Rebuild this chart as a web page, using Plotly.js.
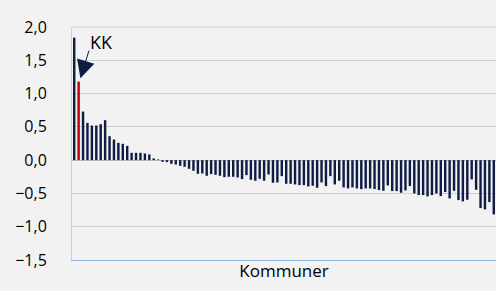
<!DOCTYPE html>
<html>
<head>
<meta charset="utf-8">
<script src="https://cdn.plot.ly/plotly-3.0.1.min.js"></script>
<style>html,body{margin:0;padding:0;background:#f2f2f2;}#chart{width:496px;height:291px;}</style>
</head>
<body>
<div id="chart"></div>
<script>
const categories = ["K01","KK","K03","K04","K05","K06","K07","K08","K09","K10",
"K11","K12","K13","K14","K15","K16","K17","K18","K19","K20",
"K21","K22","K23","K24","K25","K26","K27","K28","K29","K30",
"K31","K32","K33","K34","K35","K36","K37","K38","K39","K40",
"K41","K42","K43","K44","K45","K46","K47","K48","K49","K50",
"K51","K52","K53","K54","K55","K56","K57","K58","K59","K60",
"K61","K62","K63","K64","K65","K66","K67","K68","K69","K70",
"K71","K72","K73","K74","K75","K76","K77","K78","K79","K80",
"K81","K82","K83","K84","K85","K86","K87","K88","K89","K90",
"K91","K92","K93","K94","K95","K96"];
const values = [1.84,1.18,0.73,0.56,0.52,0.52,0.54,0.60,0.36,0.31,
0.26,0.245,0.215,0.11,0.11,0.11,0.10,0.085,0.025,0.01,
-0.025,-0.03,-0.055,-0.065,-0.085,-0.10,-0.13,-0.16,-0.205,-0.20,
-0.235,-0.21,-0.22,-0.235,-0.255,-0.25,-0.25,-0.26,-0.285,-0.225,
-0.295,-0.31,-0.28,-0.31,-0.215,-0.34,-0.335,-0.24,-0.355,-0.355,
-0.365,-0.375,-0.375,-0.395,-0.385,-0.415,-0.335,-0.39,-0.24,-0.365,
-0.31,-0.41,-0.425,-0.41,-0.425,-0.435,-0.425,-0.425,-0.435,-0.45,
-0.46,-0.38,-0.465,-0.465,-0.49,-0.455,-0.39,-0.5,-0.525,-0.525,
-0.545,-0.525,-0.5,-0.54,-0.48,-0.575,-0.46,-0.6,-0.62,-0.595,
-0.29,-0.445,-0.72,-0.74,-0.63,-0.815];
const highlight = "KK";
const yTicks = [-1.5,-1.0,-0.5,0.0,0.5,1.0,1.5,2.0];

const colors = categories.map(c => c === highlight ? "#c00000" : "#0f1d45");

const trace = {
  type: "bar",
  x: categories,
  y: values,
  marker: {color: colors, line: {width: 0}},
  hoverinfo: "none"
};

const hi = categories.indexOf(highlight);

const layout = {
  width: 496, height: 291,
  margin: {l: 72, r: 0, t: 27, b: 31},
  paper_bgcolor: "#f2f2f2",
  plot_bgcolor: "#f2f2f2",
  separators: ",.",
  bargap: 0.45,
  showlegend: false,
  font: {family: "Open Sans, Liberation Sans, sans-serif", color: "#000000", size: 16},
  xaxis: {
    type: "category",
    showticklabels: false,
    ticks: "",
    showgrid: false,
    zeroline: false,
    showline: true,
    linecolor: "#8fb4de",
    linewidth: 1,
    range: [-0.5, categories.length - 0.5],
    title: {text: "Kommuner", font: {size: 17, color: "#000000"}, standoff: 5}
  },
  yaxis: {
    range: [-1.5, 2.0],
    tickvals: yTicks,
    tickformat: ".1f",
    showgrid: true,
    gridcolor: "#cfcfcf",
    gridwidth: 1,
    zeroline: true,
    zerolinecolor: "#bfbfbf",
    zerolinewidth: 1,
    showline: true,
    linecolor: "#c5cfdd",
    linewidth: 1,
    ticks: "",
    ticklabelstandoff: 21,
    tickfont: {size: 16, color: "#000000"}
  },
  shapes: [{
    type: "line", xref: "paper", yref: "paper",
    x0: 0, x1: 1, y0: 1, y1: 1,
    line: {color: "#cfcfcf", width: 1}
  }],
  annotations: [{
    x: hi + 0.4, y: values[hi] + 0.05,
    xref: "x", yref: "y",
    text: "",
    showarrow: true,
    arrowhead: 2,
    arrowsize: 3.6,
    arrowwidth: 1,
    arrowcolor: "#0f1d45",
    ax: 9, ay: -29,
    standoff: 0
  }, {
    x: hi, y: values[hi],
    xref: "x", yref: "y",
    text: "KK",
    showarrow: false,
    xshift: 23, yshift: 40,
    font: {size: 18, color: "#000000"}
  }]
};

Plotly.newPlot("chart", [trace], layout, {staticPlot: true, displayModeBar: false});
</script>
</body>
</html>
